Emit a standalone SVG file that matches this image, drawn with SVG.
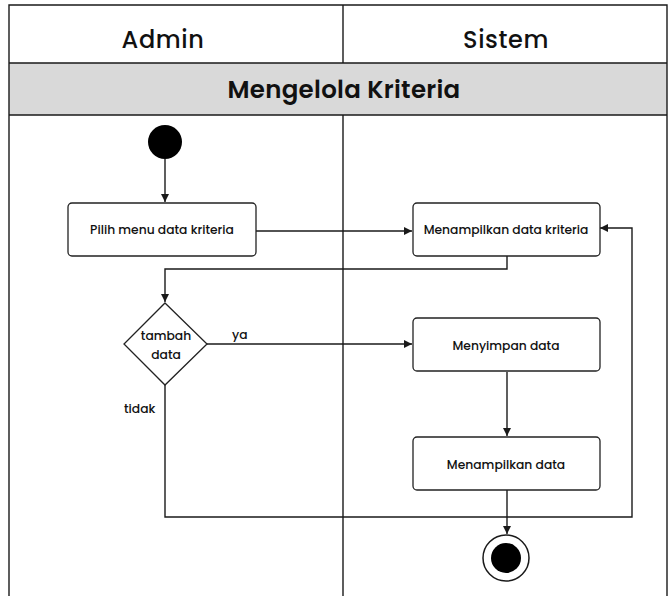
<svg xmlns="http://www.w3.org/2000/svg" width="668" height="596" viewBox="0 0 668 596">
  <style>
    .lane { fill: none; stroke: #1a1a1a; stroke-width: 1.4; }
    .box { fill: #ffffff; stroke: #222222; stroke-width: 1.3; }
    .edge { fill: none; stroke: #1a1a1a; stroke-width: 1.4; }
    .hdr { font-family: Poppins, Inter, "Noto Sans", sans-serif; font-size: 24px; font-weight: 500; letter-spacing: 0.6px; fill: #111; text-anchor: middle; }
    .ttl { font-family: Poppins, Inter, "Noto Sans", sans-serif; font-size: 24.5px; font-weight: 600; letter-spacing: 0.3px; fill: #111; text-anchor: middle; }
    .lbl { font-family: Poppins, Inter, "Noto Sans", sans-serif; font-size: 12.3px; font-weight: 500; fill: #111; text-anchor: middle; }
    .gl { font-family: Poppins, Inter, "Noto Sans", sans-serif; font-size: 12.3px; font-weight: 500; fill: #111; }
  </style>
  <defs>
    <marker id="arrow" viewBox="0 0 10 10" refX="10" refY="5" markerWidth="8" markerHeight="8" markerUnits="userSpaceOnUse" orient="auto">
      <path d="M0,0 L10,5 L0,10 z" fill="#1a1a1a"/>
    </marker>
  </defs>

  <rect width="668" height="596" fill="#ffffff"/>

  <!-- swimlane frame -->
  <g id="lanes">
    <rect x="9" y="63" width="658" height="52" fill="#d9d9d9"/>
    <path class="lane" d="M9,596 V5 H667 V596"/>
    <path class="lane" d="M9,63 H667 M9,115 H667"/>
    <path class="lane" d="M343,5 V63 M343,115 V596"/>
    <text class="hdr" x="163" y="48">Admin</text>
    <text class="hdr" x="506" y="48">Sistem</text>
    <text class="ttl" x="344" y="98">Mengelola Kriteria</text>
  </g>

  <!-- connectors -->
  <g id="connectors">
    <path class="edge" d="M165,159 V202" marker-end="url(#arrow)"/>
    <path class="edge" d="M256,231 H412" marker-end="url(#arrow)"/>
    <path class="edge" d="M507,256 V269 H165 V302" marker-end="url(#arrow)"/>
    <path class="edge" d="M207,344 H412" marker-end="url(#arrow)"/>
    <text class="gl" x="232" y="339">ya</text>
    <path class="edge" d="M165,385 V517 H632 V228 H600" marker-end="url(#arrow)"/>
    <text class="gl" x="124" y="413">tidak</text>
    <path class="edge" d="M507,372 V436" marker-end="url(#arrow)"/>
    <path class="edge" d="M507,490 V534" marker-end="url(#arrow)"/>
  </g>

  <g id="start">
    <circle cx="165" cy="142" r="17" fill="#000"/>
  </g>

  <g id="pilih-menu">
    <rect class="box" x="68" y="203" width="188" height="53" rx="4"/>
    <text class="lbl" x="162" y="234">Pilih menu data kriteria</text>
  </g>

  <g id="tampil-kriteria">
    <rect class="box" x="413" y="203" width="187" height="53" rx="4"/>
    <text class="lbl" x="506" y="234">Menampilkan data kriteria</text>
  </g>

  <g id="decision">
    <polygon class="box" points="165,303 207,344 165,385 124,344"/>
    <text class="lbl" x="166" y="340">tambah</text>
    <text class="lbl" x="166" y="359">data</text>
  </g>

  <g id="simpan">
    <rect class="box" x="413" y="318" width="187" height="53" rx="4"/>
    <text class="lbl" x="506" y="350">Menyimpan data</text>
  </g>

  <g id="tampil-data">
    <rect class="box" x="413" y="437" width="187" height="53" rx="4"/>
    <text class="lbl" x="506" y="469">Menampilkan data</text>
  </g>

  <g id="end">
    <circle cx="506" cy="558" r="23" fill="#fff" stroke="#1a1a1a" stroke-width="1.5"/>
    <circle cx="506" cy="558" r="15" fill="#000"/>
  </g>
</svg>
